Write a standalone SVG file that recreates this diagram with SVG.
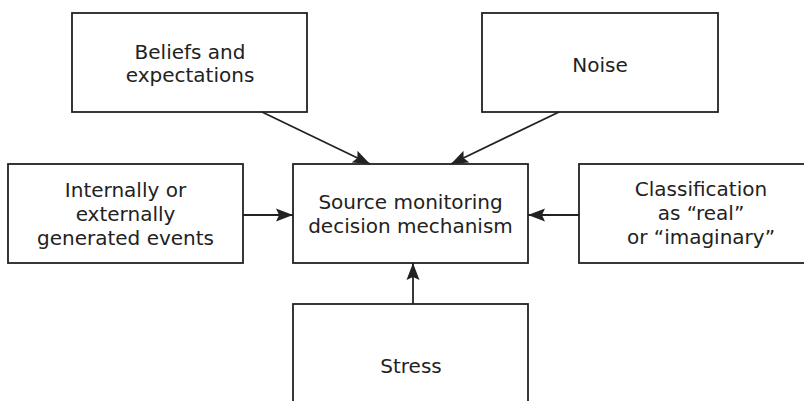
<svg xmlns="http://www.w3.org/2000/svg" width="804" height="401" viewBox="0 0 804 401">
<style>
.box{fill:#fff;stroke:#222;stroke-width:1.8}
.t{font-family:"DejaVu Sans","Liberation Sans",Arial,sans-serif;font-size:20px;fill:#222;text-anchor:middle}
.c{stroke:#222;stroke-width:1.8;fill:none;marker-end:url(#ah)}
</style>
<defs>
<marker id="ah" markerUnits="userSpaceOnUse" markerWidth="18" markerHeight="14" refX="17" refY="6.5" orient="auto" viewBox="0 0 18 13">
<path d="M0,0 L17,6.5 L0,13 L3,6.5 z" fill="#222"/>
</marker>
</defs>
<rect width="804" height="401" fill="#fff"/>
<g id="beliefs">
<rect class="box" x="72" y="13" width="235" height="99"/>
<text class="t" x="190" y="59">Beliefs and</text>
<text class="t" x="190" y="82">expectations</text>
</g>
<g id="noise">
<rect class="box" x="482" y="13" width="236" height="99"/>
<text class="t" x="600" y="71.5">Noise</text>
</g>
<g id="events">
<rect class="box" x="8" y="164" width="235" height="99"/>
<text class="t" x="125.5" y="197">Internally or</text>
<text class="t" x="125.5" y="221">externally</text>
<text class="t" x="125.5" y="244.5">generated events</text>
</g>
<g id="mechanism">
<rect class="box" x="293" y="164" width="235" height="99"/>
<text class="t" x="410.5" y="209">Source monitoring</text>
<text class="t" x="410.5" y="232.5">decision mechanism</text>
</g>
<g id="classification">
<rect class="box" x="579" y="164" width="240" height="99"/>
<text class="t" x="701" y="196">Classification</text>
<text class="t" x="701" y="220">as “real”</text>
<text class="t" x="701" y="243.5">or “imaginary”</text>
</g>
<g id="stress">
<rect class="box" x="293" y="304" width="235" height="110"/>
<text class="t" x="411" y="372.5">Stress</text>
</g>
<g id="connectors">
<line class="c" x1="262" y1="112" x2="370" y2="164"/>
<line class="c" x1="559" y1="112" x2="451" y2="164"/>
<line class="c" x1="243" y1="215" x2="293" y2="215"/>
<line class="c" x1="579" y1="215" x2="528" y2="215"/>
<line class="c" x1="413" y1="304" x2="413" y2="263"/>
</g>
</svg>
